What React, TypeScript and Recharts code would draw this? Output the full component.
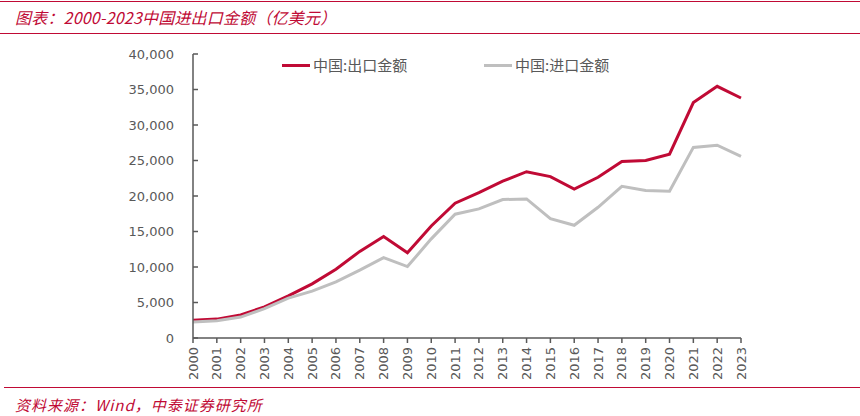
import React from "react";
import { LineChart, Line, XAxis, YAxis, Legend } from "recharts";

const years = [
  "2000", "2001", "2002", "2003", "2004", "2005", "2006", "2007",
  "2008", "2009", "2010", "2011", "2012", "2013", "2014", "2015",
  "2016", "2017", "2018", "2019", "2020", "2021", "2022", "2023",
];

// 中国:出口金额 (亿美元)
const exportValues = [
  2492, 2661, 3256, 4382, 5933, 7620, 9690, 12200,
  14307, 12016, 15778, 18984, 20487, 22090, 23423, 22735,
  20976, 22633, 24867, 24995, 25900, 33160, 35444, 33800,
];

// 中国:进口金额 (亿美元)
const importValues = [
  2251, 2436, 2952, 4128, 5612, 6600, 7915, 9561,
  11326, 10059, 13962, 17435, 18184, 19500, 19592, 16796,
  15879, 18410, 21357, 20771, 20660, 26844, 27160, 25568,
];

const yTicks = [0, 5000, 10000, 15000, 20000, 25000, 30000, 35000, 40000];

const seriesNames = ["中国:出口金额", "中国:进口金额"];

const RED = "#c00a35";
const GREY = "#bfbfbf";
const AXIS = "#595959";
const TEXT = "#595959";

const data = years.map((year, i) => ({
  year,
  exp: exportValues[i],
  imp: importValues[i],
}));

function YearTick(props: any) {
  const { x, y, payload } = props;
  return (
    <text
      x={0}
      y={0}
      transform={`translate(${x},${y}) rotate(-90)`}
      textAnchor="end"
      dominantBaseline="central"
      fill={TEXT}
      fontSize={13}
      fontFamily="DejaVu Sans, sans-serif"
    >
      {payload.value}
    </text>
  );
}

function renderLegend() {
  const items = [
    { name: seriesNames[0], color: RED, left: 0 },
    { name: seriesNames[1], color: GREY, left: 202 },
  ];
  return (
    <div style={{ position: "relative", width: 340, height: 20 }}>
      {items.map((it) => (
        <div
          key={it.name}
          style={{
            position: "absolute",
            left: it.left,
            top: 0,
            display: "flex",
            alignItems: "center",
            whiteSpace: "nowrap",
          }}
        >
          <span
            style={{
              display: "inline-block",
              width: 28,
              height: 3,
              background: it.color,
              marginRight: 3,
            }}
          />
          <span
            style={{
              fontFamily: "'Noto Sans CJK SC', sans-serif",
              fontSize: 15,
              color: TEXT,
              lineHeight: "20px",
            }}
          >
            {it.name}
          </span>
        </div>
      ))}
    </div>
  );
}

export default function App() {
  return (
    <div style={{ position: "relative", width: 860, height: 416, background: "#fff" }}>
      <style>{"body{margin:0;}"}</style>
      {/* title bar */}
      <div style={{ position: "absolute", left: 0, top: 1, width: 860, height: 1, background: RED }} />
      <div
        style={{
          position: "absolute",
          left: 15,
          top: 6,
          fontFamily: "'Noto Sans CJK SC', sans-serif",
          fontStyle: "italic",
          fontSize: 16,
          color: RED,
          whiteSpace: "nowrap",
          lineHeight: "22px",
          letterSpacing: 0.2,
        }}
      >
        图表：2000-2023中国进出口金额（亿美元）
      </div>
      <div style={{ position: "absolute", left: 0, top: 33, width: 860, height: 1, background: RED }} />

      <LineChart
        width={860}
        height={416}
        data={data}
        margin={{ top: 54, right: 119, bottom: 0, left: 0 }}
      >
        <XAxis
          dataKey="year"
          height={78}
          interval={0}
          stroke={AXIS}
          strokeWidth={1.5}
          tickSize={5}
          tickMargin={4}
          tick={<YearTick />}
        />
        <YAxis
          width={193}
          domain={[0, 40000]}
          ticks={yTicks}
          interval={0}
          stroke={AXIS}
          strokeWidth={1.5}
          tickSize={-5}
          tickMargin={24}
          tick={{ fill: TEXT, fontSize: 13, fontFamily: "DejaVu Sans, sans-serif" }}
          tickFormatter={(v: number) => v.toLocaleString("en-US")}
        />
        <Legend
          layout="horizontal"
          verticalAlign="middle"
          align="center"
          content={renderLegend}
          wrapperStyle={{ top: 55, left: 282, width: 340 }}
        />
        <Line
          dataKey="exp"
          name={seriesNames[0]}
          stroke={RED}
          strokeWidth={3}
          dot={false}
          type="linear"
          isAnimationActive={false}
        />
        <Line
          dataKey="imp"
          name={seriesNames[1]}
          stroke={GREY}
          strokeWidth={3}
          dot={false}
          type="linear"
          isAnimationActive={false}
        />
      </LineChart>

      {/* source */}
      <div style={{ position: "absolute", left: 4, top: 387, width: 856, height: 1, background: RED }} />
      <div
        style={{
          position: "absolute",
          left: 15,
          top: 395,
          fontFamily: "'Noto Sans CJK SC', sans-serif",
          fontStyle: "italic",
          fontSize: 15,
          color: RED,
          whiteSpace: "nowrap",
          lineHeight: "20px",
          letterSpacing: 1,
        }}
      >
        资料来源：Wind，中泰证券研究所
      </div>
    </div>
  );
}
